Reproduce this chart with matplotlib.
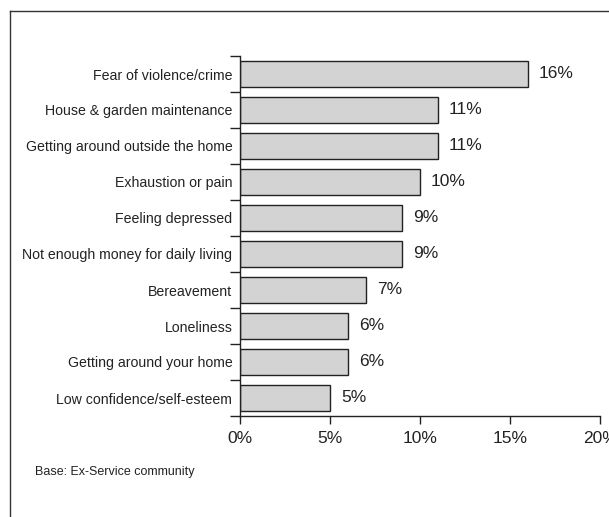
import matplotlib
matplotlib.use("Agg")
import matplotlib.pyplot as plt
from matplotlib.lines import Line2D
import numpy as np

plt.rcParams['font.family'] = ['Liberation Sans', 'DejaVu Sans']

categories = ["Fear of violence/crime", "House & garden maintenance",
              "Getting around outside the home", "Exhaustion or pain",
              "Feeling depressed", "Not enough money for daily living",
              "Bereavement", "Loneliness", "Getting around your home",
              "Low confidence/self-esteem"]
values = [16, 11, 11, 10, 9, 9, 7, 6, 6, 5]
xticks = [0, 5, 10, 15, 20]
xtick_labels = ["0%", "5%", "10%", "15%", "20%"]
note = "Base: Ex-Service community"

W, H = 609, 517
fig = plt.figure(figsize=(W/100, H/100), dpi=100)
ax = fig.add_axes([240/W, 1-416/H, (600-240)/W, (416-56)/H])

n = len(categories)
y = np.arange(n)
ax.barh(y, values, height=0.72, color="#d3d3d3", edgecolor="#222222", linewidth=1.0)
ax.set_ylim(n-0.5, -0.5)
ax.set_xlim(0, 20)

for yi, v in zip(y, values):
    ax.text(v + 0.6, yi, f"{v}%", va="center", ha="left", fontsize=12.5, color="#222222")

ax.set_yticks(y)
ax.set_yticklabels(categories, fontsize=10.2, color="#222222")
ax.tick_params(axis='y', which='major', length=0, pad=5.5)
ax.set_yticks(np.arange(-0.5, n, 1), minor=True)
ax.tick_params(axis='y', which='minor', length=7, width=1, color="#222222", direction='out')

ax.set_xticks(xticks)
ax.set_xticklabels(xtick_labels, fontsize=12.5, color="#222222")
ax.tick_params(axis='x', length=6, width=1, color="#222222", direction='out', pad=5)

for s in ["top", "right"]:
    ax.spines[s].set_visible(False)
for s in ["left", "bottom"]:
    ax.spines[s].set_color("#222222")
    ax.spines[s].set_linewidth(1)

fig.text(35/W, 1-472/H, note, fontsize=9, va="center", ha="left", color="#222222")

# outer frame (partly cropped)
fig.add_artist(Line2D([10/W, 10/W], [0, 1-11/H], transform=fig.transFigure, color="#333333", lw=1))
fig.add_artist(Line2D([10/W, 1], [1-11/H, 1-11/H], transform=fig.transFigure, color="#333333", lw=1))

fig.savefig("out.png", dpi=100)
